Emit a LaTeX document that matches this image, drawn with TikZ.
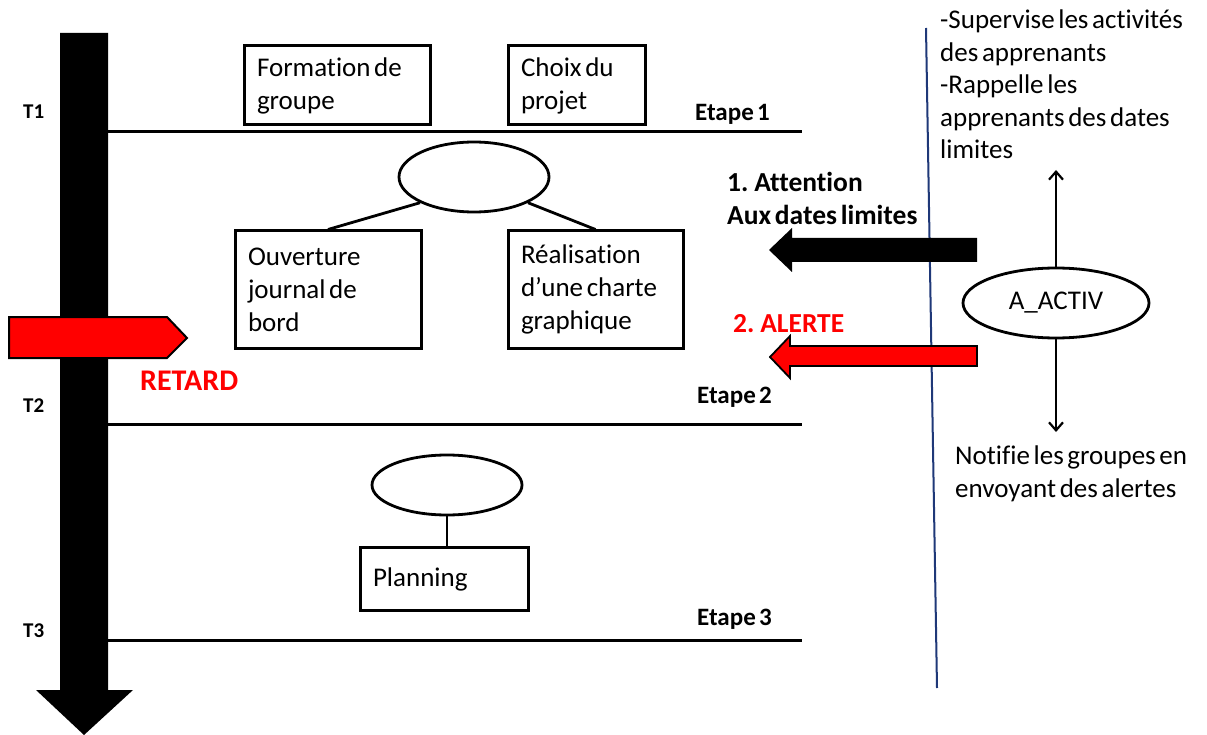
\documentclass[tikz,border=0pt]{standalone}
\usepackage{fontspec}
\setmainfont{Carlito}[WordSpace=0.6,Ligatures=NoCommon]
\usetikzlibrary{arrows.meta,shapes.geometric}
\definecolor{navyline}{RGB}{31,56,120}
\begin{document}
\begin{tikzpicture}[x=1pt,y=-1pt,
 box/.style={draw, line width=3pt, align=flush left, inner xsep=13pt, inner ysep=0pt, font=\fontsize{27}{33}\selectfont},
 oval/.style={draw, ellipse, line width=2.8pt, inner sep=0pt},
 lbl/.style={anchor=base west, inner sep=0pt, align=left, font=\fontsize{27}{32.5}\selectfont},
 blbl/.style={anchor=base west, inner sep=0pt, align=left, font=\fontsize{27.5}{33}\selectfont\bfseries},
 tlbl/.style={anchor=base west, inner sep=0pt, font=\fontsize{21}{25}\selectfont\bfseries},
 stage/.style={line width=3pt},
 link/.style={line width=2.8pt},
 vlink/.style={line width=2.2pt, -{Straight Barb[length=8pt,width=14pt,line width=2.2pt]}},
]
\useasboundingbox (0,0) rectangle (1207,735);

% timeline arrow
\fill[black] (60,33) -- (108,33) -- (108,690) -- (133,690) -- (84,735) -- (36,690) -- (60,690) -- cycle;

% stage lines
\draw[stage] (108,132) -- (802,132);
\draw[stage] (108,424) -- (802,424);
\draw[stage] (108,640) -- (802,640);

% red signpost
\draw[fill=red, line width=2pt, line join=miter] (9,317) -- (167,317) -- (187,338) -- (167,358) -- (9,358) -- cycle;

% T labels
\node[tlbl] (t1) at (23,119) {T1};
\node[tlbl] (t2) at (23,412) {T2};
\node[tlbl] (t3) at (23,637) {T3};

% etape labels
\node[blbl, font=\fontsize{25}{33}\selectfont\bfseries] (e1) at (695,121) {Etape 1};
\node[blbl, font=\fontsize{25}{33}\selectfont\bfseries] (e2) at (697,403) {Etape 2};
\node[blbl, font=\fontsize{25}{33}\selectfont\bfseries] (e3) at (697,625) {Etape 3};

\node[anchor=base west, inner sep=0pt, text=red, font=\fontsize{30}{33}\selectfont\bfseries] (retard) at (140,390) {RETARD};

% boxes
\node[box, text width=160pt, minimum height=79pt] (formation) at (337,85.5) {Formation de\\groupe};
\node[box, text width=111pt, minimum height=79pt] (choix) at (576.5,85.5) {Choix du\\projet};
\node[box, text width=160pt, minimum height=117pt] (ouverture) at (328,289.5) {Ouverture\\journal de\\bord};
\node[box, text width=149pt, minimum height=117pt] (realisation) at (595.5,289.5) {Réalisation\\d’une charte\\graphique};
\node[box, text width=142pt, minimum height=63pt] (planning) at (444,579) {Planning};

% ellipses
\node[oval, minimum width=150pt, minimum height=70pt] (ell1) at (474,177) {};
\node[oval, minimum width=150pt, minimum height=60pt] (ell2) at (447,485) {};
\draw[link] (ell1.south west) -- (ouverture.north);
\draw[link] (ell1.south east) -- (realisation.north);
\draw[link] (ell2.south) -- (ell2.south |- planning.north);

% blue separator
\draw[line width=2pt, navyline] (926,28) -- (937,688);

% left arrows
\fill[black] (977,238) -- (792,238) -- (792,228) -- (769,250) -- (792,272) -- (792,262) -- (977,262) -- cycle;
\draw[fill=red, line width=1.8pt, line join=miter] (977,346) -- (790,346) -- (790,336) -- (770,357) -- (790,378) -- (790,366) -- (977,366) -- cycle;

\node[blbl] (attn) at (727,225) {1. Attention\\Aux dates limites};
\node[blbl, text=red] (alerte) at (733,332) {2. ALERTE};

% A_ACTIV
\node[oval, minimum width=186pt, minimum height=70pt, font=\fontsize{27}{33}\selectfont] (aactiv) at (1056,303) {A\_ACTIV};
\coordinate (upend) at (1056,170);
\coordinate (downend) at (1056,432);
\draw[vlink] (aactiv.north) -- (upend);
\draw[vlink] (aactiv.south) -- (downend);

\node[lbl] (superv) at (940,159) {-Supervise les activités\\des apprenants\\-Rappelle les\\apprenants des dates\\limites};
\node[lbl] (notif) at (955,497) {Notifie les groupes en\\envoyant des alertes};
\end{tikzpicture}
\end{document}
